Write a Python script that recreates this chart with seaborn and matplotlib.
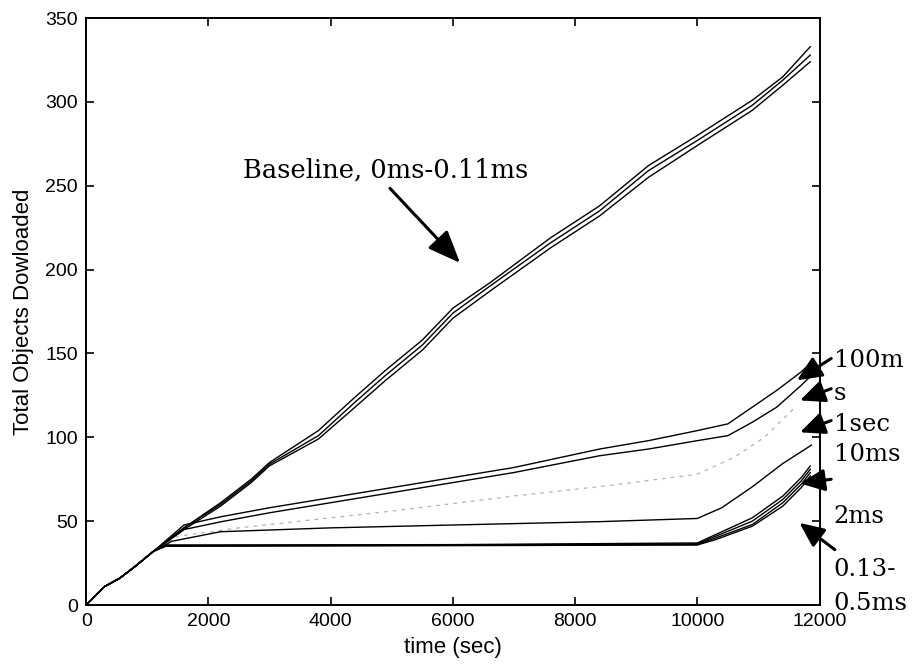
import numpy as np
import pandas as pd
import matplotlib
matplotlib.use("Agg")
import matplotlib.pyplot as plt
import seaborn as sns

sns.set_style("ticks")
plt.rcParams["font.family"] = ["Liberation Sans", "DejaVu Sans"]
plt.rcParams["text.color"] = "black"
plt.rcParams["axes.labelcolor"] = "black"
plt.rcParams["xtick.color"] = "black"
plt.rcParams["ytick.color"] = "black"
plt.rcParams["axes.edgecolor"] = "black"

# shared ramp before the curves split (sec, objects)
RAMP_T = [0, 300, 550, 800, 1100]
RAMP_V = [0, 11, 16, 23, 32]

BASE_T = [1600, 2200, 2700, 3000, 3800, 4400, 4900, 5500, 6000, 6600, 7600, 8400, 9200, 10000, 10900, 11400, 11850]
BASE_A = [46, 61, 75, 85, 104, 124, 140, 158, 177, 192, 219, 238, 262, 280, 301, 315, 333]
BASE_B = [46, 60, 74, 84, 101, 121, 137, 155, 174, 190, 216, 235, 259, 277, 298, 313, 328]
BASE_C = [45, 59, 73, 83, 99, 118, 134, 152, 171, 187, 213, 232, 255, 274, 295, 310, 324]

SLOW_T = [1600, 2200, 3000, 4000, 5000, 6000, 7000, 8400, 9200, 10000, 10500, 10900, 11300, 11700, 11870]
MS100 = [47.7, 52.6, 58, 64, 70, 76, 82, 93, 98, 104, 108, 118, 128, 139, 145]
SEC1 = [45, 49.6, 55, 61, 67, 73, 79, 89, 93, 98, 101, 109, 118, 131, 137]

MS10_T = [1400, 2200, 4000, 6000, 8400, 10000, 10400, 10900, 11400, 11870]
MS10 = [38, 43.7, 46, 47.7, 49.7, 51.6, 58, 70.5, 84.4, 95.4]

FLAT_T = [1300, 2000, 6000, 10000, 10300, 10900, 11400, 11700, 11850]
FLAT_A = [35.5, 35.5, 35.8, 36.5, 41, 50, 63, 74, 81]
FLAT_B = [35.2, 35.3, 35.6, 36.0, 40, 48, 61, 72, 79]
FLAT_C = [35.0, 35.1, 35.4, 35.8, 39, 47, 59, 70, 77]
FLAT_D = [35.8, 35.8, 36.0, 37.0, 42, 52, 65, 76, 83]

GRAY_T = [1500, 2500, 3500, 5000, 7000, 8500, 10000, 10600, 11100, 11600]
GRAY = [41, 46, 50, 56, 65, 71, 78, 88, 100, 118]

# (text, x, y) in data units, right of the axes
SIDE_LABELS = [
    ("100m", 12230, 142),
    ("s", 12230, 122),
    ("1sec", 12230, 104),
    ("10ms", 12230, 86),
    ("2ms", 12230, 49),
    ("0.13-", 12230, 17),
    ("0.5ms", 12230, -3),
]
# (tail x, tail y, tip x, tip y)
SIDE_ARROWS = [
    (12190, 147, 11630, 134),
    (12190, 129, 11680, 122),
    (12190, 110, 11680, 103),
    (12190, 75, 11680, 72.5),
    (12250, 33, 11670, 49),
]


def build_table():
    runs = [
        ("base_a", BASE_T, BASE_A),
        ("base_b", BASE_T, BASE_B),
        ("base_c", BASE_T, BASE_C),
        ("100ms", SLOW_T, MS100),
        ("1sec", SLOW_T, SEC1),
        ("10ms", MS10_T, MS10),
        ("flat_a", FLAT_T, FLAT_A),
        ("flat_b", FLAT_T, FLAT_B),
        ("flat_c", FLAT_T, FLAT_C),
        ("flat_d", FLAT_T, FLAT_D),
    ]
    tables = []
    for name, t, v in runs:
        tables.append(pd.DataFrame({"t": RAMP_T + t, "v": RAMP_V + v, "run": name}))
    return pd.concat(tables, ignore_index=True)


df = build_table()
gray = pd.DataFrame({"t": [RAMP_T[-1]] + GRAY_T, "v": [RAMP_V[-1]] + GRAY})

fig = plt.figure(figsize=(9.19, 6.68), dpi=100)
ax = fig.add_axes([0.0938, 0.0943, 0.798, 0.8787])

sns.lineplot(data=gray, x="t", y="v", color="0.7", lw=0.9, ls=(0, (3, 4)), ax=ax)
sns.lineplot(data=df, x="t", y="v", units="run", estimator=None,
             color="black", lw=1.0, ax=ax, legend=False)

ax.set_xlim(0, 12000)
ax.set_ylim(0, 350)
ax.set_xticks(np.arange(0, 12001, 2000))
ax.set_yticks(np.arange(0, 351, 50))
ax.tick_params(direction="in", top=True, right=True, length=6, width=1.2,
               labelsize=14, pad=6)
for s in ax.spines.values():
    s.set_linewidth(1.4)
ax.set_xlabel("time (sec)", fontsize=16, labelpad=5)
ax.set_ylabel("Total Objects Dowloaded", fontsize=16, labelpad=8)

serif = ["DejaVu Serif"]
ax.text(2566, 255, "Baseline, 0ms-0.11ms", family=serif, fontsize=18.5,
        ha="left", va="baseline")
ax.annotate("", xy=(6117, 204), xytext=(4970, 248.5),
            arrowprops=dict(arrowstyle="-|>,head_length=1.1,head_width=0.45",
                            mutation_scale=18, lw=2.2, color="black",
                            shrinkA=0, shrinkB=0))

for txt, x, y in SIDE_LABELS:
    ax.text(x, y, txt, family=serif, fontsize=17.5, ha="left", va="baseline",
            clip_on=False)
for x0, y0, x1, y1 in SIDE_ARROWS:
    ax.annotate("", xy=(x1, y1), xytext=(x0, y0), annotation_clip=False,
                arrowprops=dict(arrowstyle="-|>,head_length=1.0,head_width=0.45",
                                mutation_scale=15, lw=2.2, color="black",
                                shrinkA=0, shrinkB=0))

fig.savefig("out.png", dpi=100, facecolor="white")
